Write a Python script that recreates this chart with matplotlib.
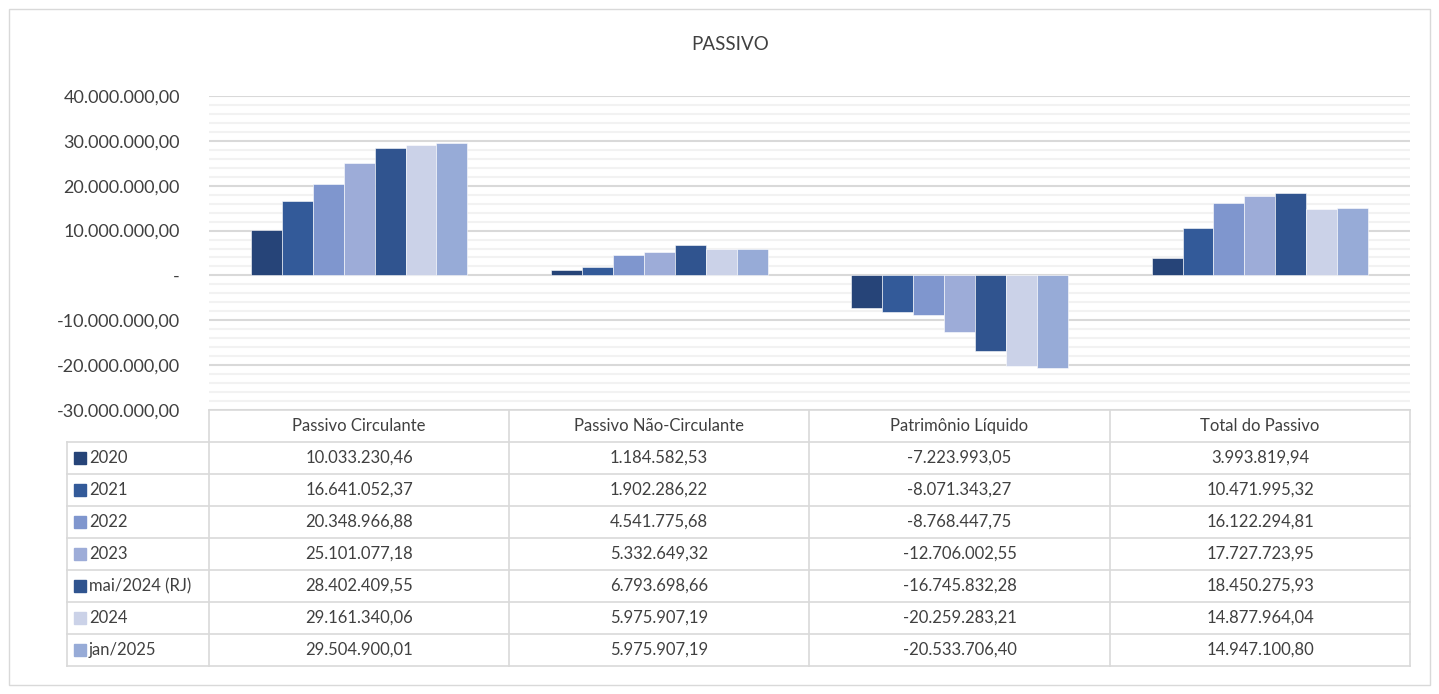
import numpy as np
import matplotlib.pyplot as plt
from matplotlib.ticker import MultipleLocator, FuncFormatter
from matplotlib.patches import Rectangle

plt.rcParams['font.family'] = ['Lato', 'DejaVu Sans']

categorias = ['Passivo Circulante', 'Passivo Não-Circulante', 'Patrimônio Líquido', 'Total do Passivo']
series = ['2020', '2021', '2022', '2023', 'mai/2024 (RJ)', '2024', 'jan/2025']
valores = {
    '2020': [10033230.46, 1184582.53, -7223993.05, 3993819.94],
    '2021': [16641052.37, 1902286.22, -8071343.27, 10471995.32],
    '2022': [20348966.88, 4541775.68, -8768447.75, 16122294.81],
    '2023': [25101077.18, 5332649.32, -12706002.55, 17727723.95],
    'mai/2024 (RJ)': [28402409.55, 6793698.66, -16745832.28, 18450275.93],
    '2024': [29161340.06, 5975907.19, -20259283.21, 14877964.04],
    'jan/2025': [29504900.01, 5975907.19, -20533706.40, 14947100.80],
}
cores = ['#264478', '#335A99', '#7F96CE', '#9DACD8', '#30548F', '#CBD2E8', '#97ABD7']

def br(v, dec=2):
    s = f'{abs(v):,.{dec}f}'.replace(',', 'X').replace('.', ',').replace('X', '.')
    return ('-' if v < 0 else '') + s

W, H = 1439, 694
fig = plt.figure(figsize=(W / 100, H / 100), dpi=100)

# pixel helper axes for the frame and the data table
bg = fig.add_axes([0, 0, 1, 1])
bg.set_xlim(0, W)
bg.set_ylim(H, 0)
bg.axis('off')
bg.add_patch(Rectangle((9, 9), 1421, 676, fill=False, edgecolor='#D9D9D9', lw=1))

x0, x1, ytop, ybot = 209, 1410, 96, 410
ax = fig.add_axes([x0 / W, 1 - ybot / H, (x1 - x0) / W, (ybot - ytop) / H])
ax.set_zorder(2)
ax.patch.set_alpha(0)

n = len(series)
w = 0.103
xs = np.arange(len(categorias))
for j, s in enumerate(series):
    ax.bar(xs + (j - (n - 1) / 2) * w, valores[s], width=w, color=cores[j],
           edgecolor='white', linewidth=0.4, zorder=3)

ax.set_xlim(-0.5, len(categorias) - 0.5)
ax.set_ylim(-30e6, 40e6)
ax.yaxis.set_major_locator(MultipleLocator(10e6))
ax.yaxis.set_minor_locator(MultipleLocator(2e6))
ax.yaxis.set_major_formatter(FuncFormatter(lambda v, p: '-' if abs(v) < 1 else br(v)))
ax.grid(axis='y', which='major', color='#D9D9D9', lw=1.5, zorder=0)
ax.grid(axis='y', which='minor', color='#F2F2F2', lw=1.5, zorder=0)
ax.tick_params(axis='y', which='both', length=0, pad=21, labelsize=13, labelcolor='#404040')
ax.set_xticks([])
for sp in ax.spines.values():
    sp.set_visible(False)

fig.text(730 / W, 1 - 44 / H, 'PASSIVO', ha='center', va='center', fontsize=13.5, color='#404040')

# data table
col_edges = [209, 509, 809, 1110, 1410]
row_edges = [410, 442, 474, 506, 538, 570, 602, 634, 666]
lc = '#D9D9D9'
bg.plot([209, 1410], [410, 410], color=lc, lw=1.2)
for y in row_edges[1:]:
    bg.plot([67, 1410], [y, y], color=lc, lw=1.2)
for x in col_edges:
    bg.plot([x, x], [410, 666], color=lc, lw=1.2)
bg.plot([67, 67], [442, 666], color=lc, lw=1.2)

for i, c in enumerate(categorias):
    bg.text((col_edges[i] + col_edges[i + 1]) / 2, 426, c, ha='center', va='center',
            fontsize=12, color='#404040')
for j, s in enumerate(series):
    yc = (row_edges[j + 1] + row_edges[j + 2]) / 2
    bg.add_patch(Rectangle((74, yc - 6), 12, 12, color=cores[j]))
    bg.text(89, yc, s, ha='left', va='center', fontsize=12, color='#404040')
    for i in range(len(categorias)):
        bg.text((col_edges[i] + col_edges[i + 1]) / 2, yc, br(valores[s][i]),
                ha='center', va='center', fontsize=12, color='#404040')

fig.savefig('out.png', dpi=100)
plt.close()
